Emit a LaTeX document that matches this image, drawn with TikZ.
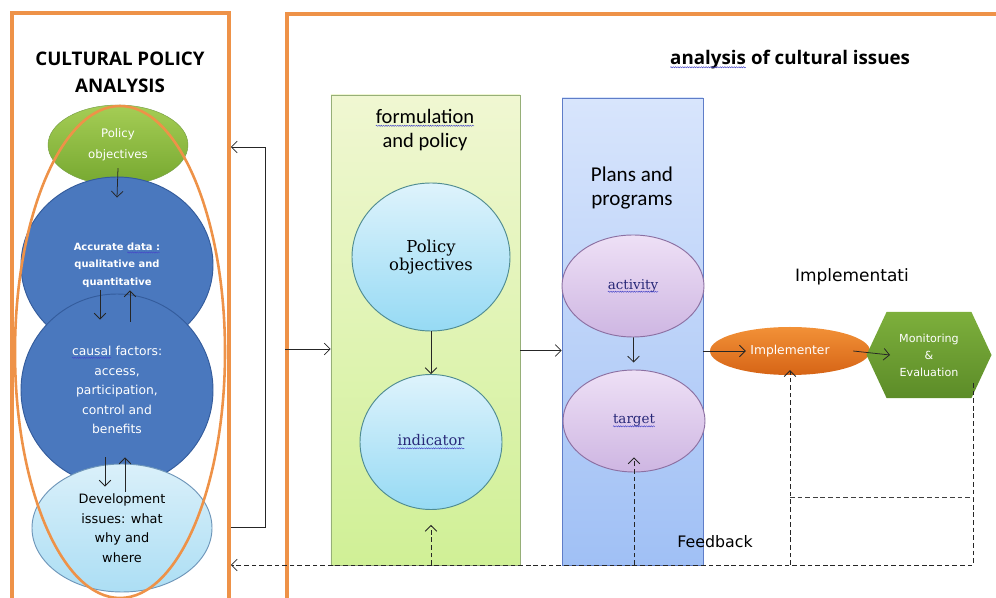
\documentclass[tikz,border=0pt]{standalone}
\usepackage{fontspec}
\setmainfont{Liberation Serif}
\setsansfont{DejaVu Sans}
\newfontfamily\calfont{Carlito}
\newfontfamily\opfont{Open Sans}
\newfontfamily\serfont{DejaVu Serif}
\usepackage{xcolor}
\usetikzlibrary{calc, shapes.geometric, shapes.symbols, arrows.meta, decorations.pathmorphing}

\definecolor{orangeline}{RGB}{238,146,72}
\definecolor{spellblue}{RGB}{70,70,200}
\definecolor{inknavy}{RGB}{40,40,120}
\definecolor{discblue}{RGB}{74,120,190}
\definecolor{discborder}{RGB}{52,92,156}
\definecolor{leaftop}{RGB}{165,205,85}
\definecolor{leafbot}{RGB}{118,168,48}
\definecolor{leafborder}{RGB}{120,160,70}
\definecolor{icetop}{RGB}{218,240,250}
\definecolor{icebot}{RGB}{172,222,244}
\definecolor{iceborder}{RGB}{110,150,185}
\definecolor{skytop}{RGB}{222,243,252}
\definecolor{skybot}{RGB}{150,218,244}
\definecolor{tealborder}{RGB}{80,140,145}
\definecolor{limetop}{RGB}{240,247,210}
\definecolor{limebot}{RGB}{208,240,150}
\definecolor{limeborder}{RGB}{150,175,120}
\definecolor{planstop}{RGB}{216,229,252}
\definecolor{plansbot}{RGB}{160,192,245}
\definecolor{plansborder}{RGB}{95,125,200}
\definecolor{lilactop}{RGB}{238,224,246}
\definecolor{lilacbot}{RGB}{206,182,226}
\definecolor{lilacborder}{RGB}{140,112,162}
\definecolor{fruittop}{RGB}{242,145,55}
\definecolor{fruitbot}{RGB}{214,100,22}
\definecolor{mosstop}{RGB}{125,175,60}
\definecolor{mossbot}{RGB}{92,140,40}

\newcommand\spell[1]{\tikz[baseline=(sw.base), x=1pt, y=1pt]{%
    \node[shape=rectangle, inner sep=0pt, outer sep=0pt, minimum width=0pt, minimum height=0pt, anchor=base] (sw) {#1};
    \draw[spellblue, line width=0.4pt, decorate, decoration={snake, amplitude=0.5pt, segment length=2pt}]
      ([yshift=-2pt]sw.base west) -- ([yshift=-2pt]sw.base east);}}

\begin{document}
\begin{tikzpicture}[x=0.03cm, y=-0.03cm,
    arr/.style={draw=black!85, line width=0.65pt, -{Straight Barb[length=5pt,width=10pt]}},
    dasharr/.style={arr, dash pattern=on 4pt off 2.5pt},
    fbline/.style={draw=black!75, line width=0.65pt, dash pattern=on 4pt off 2.5pt},
    panel/.style={draw=orangeline, line width=3pt, inner sep=0pt},
    bluedisc/.style={ellipse, draw=discborder, line width=0.8pt, fill=discblue, text=white, align=center, inner sep=0pt},
    lightdisc/.style={ellipse, draw=tealborder, line width=0.8pt, top color=skytop, bottom color=skybot, align=center, font=\serfont\fontsize{14}{16}\selectfont},
    lilac/.style={ellipse, draw=lilacborder, line width=0.8pt, top color=lilactop, bottom color=lilacbot, text=inknavy, font=\serfont\fontsize{11.5}{14}\selectfont},
    column/.style={line width=0.6pt, inner sep=0pt}
  ]
    \useasboundingbox (0,0) rectangle (996,598);

    \node[panel, minimum width=6.51cm, minimum height=17.91cm] (leftbox) at (120.5,311.5) {};
    \node[panel, minimum width=21.54cm, minimum height=17.88cm] (rightbox) at (646,312) {};

    \node[font=\opfont\bfseries\fontsize{16}{23}\selectfont, align=center] (cpa) at (120,72) {CULTURAL POLICY\\ANALYSIS};

    \node[ellipse, minimum width=4.2cm, minimum height=2.4cm, draw=leafborder, top color=leaftop, bottom color=leafbot,
          text=white, align=center, font=\sffamily\fontsize{10}{18}\selectfont] (polobj) at (118,145) {Policy\\objectives};
    \node[bluedisc, minimum width=5.76cm, minimum height=5.28cm, font=\sffamily\bfseries\fontsize{8.5}{15}\selectfont] (data) at (117,265)
          {Accurate \spell{data :}\\qualitative and\\quantitative};
    \node[bluedisc, minimum width=5.76cm, minimum height=5.76cm, font=\sffamily\fontsize{10.5}{16.7}\selectfont] (causal) at (117,390)
          {\spell{causal} factors:\\access,\\participation,\\control and\\benefits};
    \node[ellipse, minimum width=5.4cm, minimum height=3.84cm, draw=iceborder, line width=0.8pt, top color=icetop, bottom color=icebot,
          align=center, font=\sffamily\fontsize{11}{16.7}\selectfont] (dev) at (122,528) {Development\\issues: what\\why and\\where};
    \node[ellipse, draw=orangeline, line width=2.2pt, minimum width=6.3cm, minimum height=14.76cm] (ring) at (120,352) {};

    \draw[arr] ([yshift=0.51cm]polobj.south) -- ([yshift=-0.63cm]data.north);
    \draw[arr] ($(data.south)+(-17,-63)$) -- ($(causal.north)+(-17,26)$);
    \draw[arr] ($(causal.north)+(13,28)$) -- ($(data.south)+(13,-63)$);
    \draw[arr] ($(causal.south)+(-12,-29)$) -- ($(dev.north)+(-17,23)$);
    \draw[arr] ($(dev.north)+(3,28)$) -- ($(causal.south)+(8,-29)$);

    \coordinate (fbtop) at (265,147);
    \coordinate (fbbot) at (265,527);
    \draw[arr] (leftbox.east |- fbbot) -- (fbbot) -- (fbtop) -- (leftbox.east |- fbtop);

    \node[font=\opfont\bfseries\fontsize{16}{20}\selectfont] (issues) at (790,60) {\spell{analysis} of cultural issues};

    \node[column, draw=limeborder, top color=limetop, bottom color=limebot, minimum width=5.67cm, minimum height=14.1cm] (formpanel) at (425.5,330) {};
    \node[column, draw=plansborder, top color=planstop, bottom color=plansbot, minimum width=4.23cm, minimum height=14.01cm] (planpanel) at (632.5,331.5) {};

    \node[font=\calfont\fontsize{17.5}{20.5}\selectfont, align=center] (formlbl) at (425,130) {\spell{formulation}\\and policy};
    \node[font=\calfont\fontsize{18}{21}\selectfont, align=center] (planlbl) at (632,188) {Plans and\\programs};

    \node[lightdisc, minimum width=4.74cm, minimum height=4.44cm] (fpobj) at (431,257) {Policy\\objectives};
    \node[lightdisc, minimum width=4.26cm, minimum height=4.05cm, text=inknavy, font=\serfont\fontsize{12.5}{15}\selectfont] (indicator) at (431,442) {\spell{indicator}};
    \node[lilac, minimum width=4.26cm, minimum height=3.06cm] (activity) at (633,286) {\spell{activity}};
    \node[lilac, minimum width=4.26cm, minimum height=3.06cm] (target) at (634,421) {\spell{target}};

    \coordinate (formin) at ($(formpanel.west)+(0,19)$);
    \coordinate (planin) at ($(planpanel.west)+(0,19)$);
    \draw[arr] (rightbox.west |- formin) -- (formin);
    \draw[arr] (formpanel.east |- planin) -- (planin);
    \draw[arr] (fpobj) -- (indicator);
    \draw[arr, shorten >=6pt] (activity) -- (target);

    \node[font=\sffamily\fontsize{14.5}{18}\selectfont] (impltitle) at (852,277) {Implementati};
    \node[ellipse, minimum width=4.8cm, minimum height=1.44cm, top color=fruittop, bottom color=fruitbot, text=white,
          font=\sffamily\fontsize{10.5}{13}\selectfont] (impl) at (790,351) {Implementer};
    \node[signal, signal to=west and east, signal pointer angle=130, minimum width=3.75cm, minimum height=2.58cm,
          top color=mosstop, bottom color=mossbot, text=white, align=center, font=\sffamily\fontsize{9.5}{14.5}\selectfont] (monitor) at (929,355)
          {Monitoring\\\&\\Evaluation};

    \draw[arr] (planpanel.east |- impl) -- ($(impl.west)+(36,0)$);
    \draw[arr] ($(impl.east)+(-17,0)$) -- ($(monitor.center)+(-39,0)$);

    \node[font=\sffamily\fontsize{13.5}{16}\selectfont] (feedback) at (715,542) {Feedback};

    \coordinate (mtop) at (973,383);
    \coordinate (mcorner) at (973,565);
    \coordinate (fbmid) at (973,497);
    \draw[dasharr] (mtop) -- (mcorner) -- (leftbox.east |- mcorner);
    \draw[dasharr] (impl.south |- mcorner) -- ($(impl.south)+(0,-5)$);
    \draw[fbline] (impl.south |- fbmid) -- (fbmid);
    \draw[dasharr] (indicator.south |- mcorner) -- ($(indicator.south)+(0,15)$);
    \draw[dasharr] (target.south |- mcorner) -- ($(target.south)+(0,-15)$);
\end{tikzpicture}
\end{document}
